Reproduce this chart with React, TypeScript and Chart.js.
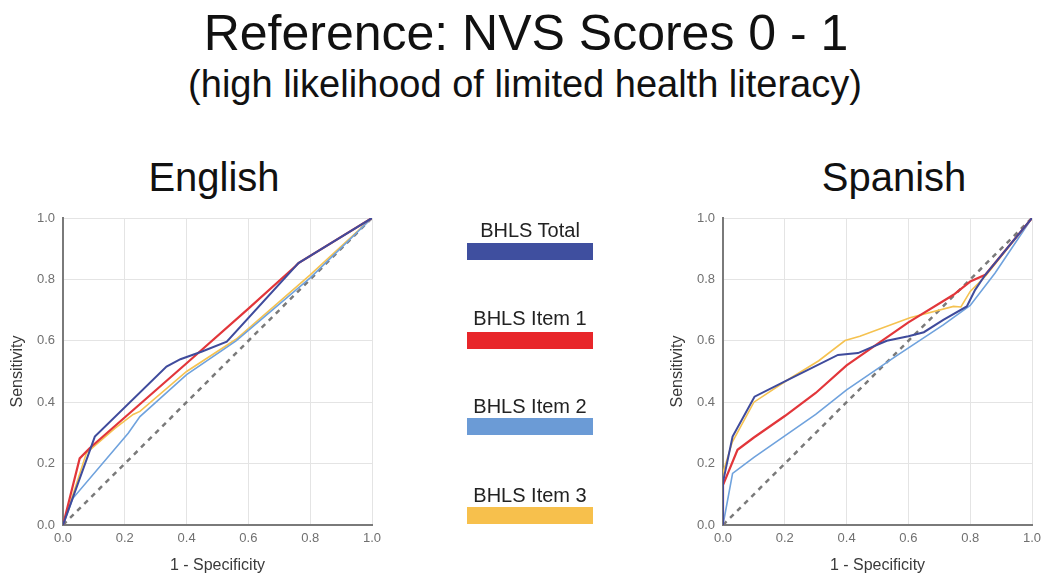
import React, { useEffect, useRef } from "react";
import { Chart, registerables } from "chart.js";

Chart.register(...registerables);

// ---------- DATA ----------
const tickValues = [0, 0.2, 0.4, 0.6, 0.8, 1.0];
const seriesNames = ["BHLS Total", "BHLS Item 1", "BHLS Item 2", "BHLS Item 3"];
const seriesColors = ["#3f4b9c", "#e2363a", "#6fa2dd", "#f5c250"];
const legendColors = ["#3f4f9f", "#e8262a", "#6b9bd6", "#f7c04c"];
const seriesWidths = [2, 2.2, 1.6, 1.6];

// English
const engTotalX = [0, 0.103, 0.335, 0.38, 0.45, 0.53, 0.762, 1];
const engTotalY = [0, 0.288, 0.516, 0.54, 0.565, 0.597, 0.853, 1];
const engItem1X = [0, 0.054, 0.086, 0.4, 0.6, 0.751, 0.762, 1];
const engItem1Y = [0, 0.217, 0.25, 0.527, 0.705, 0.842, 0.853, 1];
const engItem2X = [0, 0.032, 0.211, 0.249, 0.4, 0.56, 0.8, 1];
const engItem2Y = [0, 0.087, 0.299, 0.353, 0.49, 0.6, 0.805, 1];
const engItem3X = [0, 0.076, 0.168, 0.227, 0.249, 0.4, 0.56, 0.8, 1];
const engItem3Y = [0, 0.235, 0.315, 0.36, 0.37, 0.5, 0.605, 0.815, 1];

// Spanish
const spaTotalX = [0, 0, 0.031, 0.102, 0.21, 0.372, 0.437, 0.53, 0.6, 0.65, 0.713, 0.789, 0.816, 0.849, 1];
const spaTotalY = [0, 0.14, 0.288, 0.418, 0.473, 0.554, 0.56, 0.6, 0.615, 0.628, 0.668, 0.712, 0.766, 0.815, 1];
const spaItem1X = [0, 0, 0.047, 0.1, 0.2, 0.3, 0.4, 0.5, 0.6, 0.746, 0.8, 0.849, 1];
const spaItem1Y = [0, 0.13, 0.245, 0.285, 0.355, 0.43, 0.52, 0.59, 0.66, 0.75, 0.793, 0.815, 1];
const spaItem2X = [0, 0.031, 0.1, 0.3, 0.4, 0.56, 0.713, 0.8, 0.88, 1];
const spaItem2Y = [0, 0.168, 0.22, 0.36, 0.44, 0.55, 0.652, 0.715, 0.82, 1];
const spaItem3X = [0, 0, 0.03, 0.1, 0.21, 0.31, 0.395, 0.443, 0.605, 0.746, 0.77, 0.8, 0.849, 1];
const spaItem3Y = [0, 0.17, 0.27, 0.4, 0.473, 0.535, 0.601, 0.615, 0.675, 0.712, 0.71, 0.761, 0.81, 1];

const diagX = [0, 1];
const diagY = [0, 1];

const FONT = "'Liberation Sans', Arial, Helvetica, sans-serif";

function pts(xs: number[], ys: number[]) {
  return xs.map((x, i) => ({ x, y: ys[i] }));
}

function makeConfig(series: [number[], number[]][]) {
  const datasets: any[] = series.map((s, i) => ({
    label: seriesNames[i],
    data: pts(s[0], s[1]),
    borderColor: seriesColors[i],
    borderWidth: seriesWidths[i],
    pointRadius: 0,
    tension: 0,
    fill: false,
    showLine: true,
  }));
  datasets.push({
    label: "Reference",
    data: pts(diagX, diagY),
    borderColor: "#7a7a7a",
    borderWidth: 2.5,
    borderDash: [5, 5],
    pointRadius: 0,
    fill: false,
    showLine: true,
  });
  return {
    type: "scatter" as const,
    data: { datasets },
    options: {
      animation: false,
      responsive: false,
      events: [],
      layout: { padding: { top: 18, right: 18, left: 0, bottom: 0 } },
      plugins: { legend: { display: false }, tooltip: { enabled: false }, title: { display: false } },
      scales: {
        x: {
          type: "linear",
          min: 0,
          max: 1,
          afterFit: (s: any) => { s.height = 59; },
          afterBuildTicks: (s: any) => { s.ticks = tickValues.map((v) => ({ value: v })); },
          ticks: {
            color: "#707070",
            font: { family: FONT, size: 13 },
            padding: 6,
            maxRotation: 0,
            autoSkip: false,
            callback: (v: any) => Number(v).toFixed(1),
          },
          grid: { color: "#e4e4e4", lineWidth: 1, drawTicks: false },
          border: { color: "#7a7a7a", width: 2 },
          title: {
            display: true,
            text: "1 - Specificity",
            color: "#3a3a3a",
            font: { family: FONT, size: 16 },
            padding: { top: 0, bottom: 9 },
          },
        },
        y: {
          type: "linear",
          min: 0,
          max: 1,
          afterFit: (s: any) => { s.width = 63; },
          afterBuildTicks: (s: any) => { s.ticks = tickValues.map((v) => ({ value: v })); },
          ticks: {
            color: "#707070",
            font: { family: FONT, size: 13 },
            padding: 8,
            autoSkip: false,
            callback: (v: any) => Number(v).toFixed(1),
          },
          grid: { color: "#e4e4e4", lineWidth: 1, drawTicks: false },
          border: { color: "#7a7a7a", width: 2 },
          title: {
            display: true,
            text: "Sensitivity",
            color: "#3a3a3a",
            font: { family: FONT, size: 16 },
            padding: { top: 8, bottom: 0 },
          },
        },
      },
    },
  };
}

function RocChart({ left, series }: { left: number; series: [number[], number[]][] }) {
  const ref = useRef<HTMLCanvasElement>(null);
  useEffect(() => {
    if (!ref.current) return;
    const chart = new Chart(ref.current, makeConfig(series) as any);
    return () => chart.destroy();
  }, []);
  return (
    <canvas
      ref={ref}
      width={390}
      height={384}
      style={{ position: "absolute", left, top: 200, width: 390, height: 384, display: "block" }}
    />
  );
}

function Text({ text, size, baseline, cx, color = "#111" }: { text: string; size: number; baseline: number; cx: number; color?: string }) {
  const top = baseline - 0.8465 * size;
  return (
    <div
      style={{
        position: "absolute",
        left: cx - 400,
        width: 800,
        top,
        textAlign: "center",
        fontFamily: FONT,
        fontSize: size,
        lineHeight: 1,
        color,
        whiteSpace: "nowrap",
      }}
    >
      {text}
    </div>
  );
}

const legendBaselines = [236.7, 325, 413.3, 501.7];
const legendBarTops = [243.3, 331.7, 418.3, 506.7];

export default function App() {
  return (
    <div style={{ position: "fixed", left: 0, top: 0, width: 1050, height: 584, background: "#fff", overflow: "hidden" }}>
      <Text text="Reference: NVS Scores 0 - 1" size={50} baseline={50} cx={526} />
      <Text text="(high likelihood of limited health literacy)" size={38} baseline={97} cx={525} />
      <Text text="English" size={40} baseline={191} cx={214} />
      <Text text="Spanish" size={40} baseline={191} cx={894} />
      <RocChart
        left={0}
        series={[
          [engTotalX, engTotalY],
          [engItem1X, engItem1Y],
          [engItem2X, engItem2Y],
          [engItem3X, engItem3Y],
        ]}
      />
      <RocChart
        left={660}
        series={[
          [spaTotalX, spaTotalY],
          [spaItem1X, spaItem1Y],
          [spaItem2X, spaItem2Y],
          [spaItem3X, spaItem3Y],
        ]}
      />
      {seriesNames.map((name, i) => (
        <React.Fragment key={name}>
          <Text text={name} size={20} baseline={legendBaselines[i]} cx={530} color="#222" />
          <div
            style={{
              position: "absolute",
              left: 467,
              top: legendBarTops[i],
              width: 126,
              height: 17,
              background: legendColors[i],
            }}
          />
        </React.Fragment>
      ))}
    </div>
  );
}
